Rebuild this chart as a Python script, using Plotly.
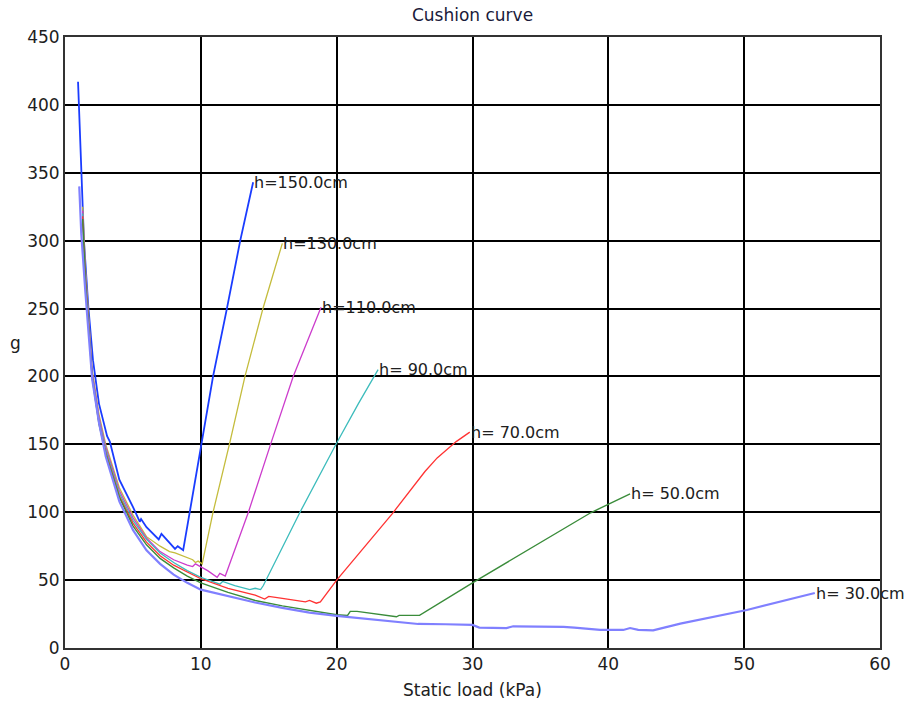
import plotly.graph_objects as go

# ---- data ----
labels = ["h=150.0cm", "h=130.0cm", "h=110.0cm", "h= 90.0cm", "h= 70.0cm", "h= 50.0cm", "h= 30.0cm"]

x150 = [0.96, 1.23, 1.4, 1.72, 2.06, 2.5, 3.0, 3.1, 3.3, 4.0, 5.0, 5.5, 5.6, 6.0, 6.9, 7.1, 8.1, 8.3, 8.7, 10.1, 10.9, 11.9, 12.9, 13.85]
g150 = [417, 351, 299, 251, 212, 180, 160, 156, 152, 124, 104, 93, 95, 89, 80, 84, 73, 75, 72, 153, 200, 249, 300, 343]

x130 = [1.3, 1.5, 2.0, 2.5, 3.0, 4.0, 5.0, 6.0, 7.0, 7.7, 8.1, 9.4, 9.6, 9.8, 10.1, 10.9, 12.15, 13.25, 14.6, 16.0]
g130 = [325, 280, 205, 172, 150, 118, 98, 82, 75, 71, 70, 65, 63, 64, 62, 100, 152, 200, 251, 298]

x110 = [1.3, 1.5, 2.0, 2.5, 3.0, 4.0, 5.0, 6.0, 7.0, 8.0, 9.0, 9.4, 9.6, 10.5, 11.2, 11.4, 11.8, 13.5, 15.2, 16.8, 18.85]
g110 = [322, 277, 203, 170, 148, 116, 96, 81, 71, 65, 61, 60, 62, 57, 52, 55, 53, 100, 152, 200, 251]

x90 = [1.3, 1.5, 2.0, 2.5, 3.0, 4.0, 5.0, 6.0, 7.0, 8.0, 9.0, 10.0, 11.4, 11.6, 12.5, 13.6, 14.0, 14.4, 14.6, 15.5, 17.3, 20.0, 21.6, 23.05]
g90 = [320, 275, 201, 168, 146, 114, 94, 80, 70, 63, 57, 52, 47, 49, 46, 43, 44, 43, 46, 64, 100, 151, 180, 205]

x70 = [1.3, 1.5, 2.0, 2.5, 3.0, 4.0, 5.0, 6.0, 7.0, 8.0, 9.0, 10.0, 12.0, 14.0, 14.7, 15.0, 16.0, 17.7, 18.0, 18.5, 18.8, 20.0, 24.1, 26.5, 27.4, 28.8, 29.8]
g70 = [318, 273, 200, 166, 144, 112, 92, 78, 68, 61, 56, 51, 44, 39, 36, 38, 36.5, 34, 35, 33, 34, 50, 99, 130, 140, 152, 159]

x50 = [1.3, 1.5, 2.0, 2.5, 3.0, 4.0, 5.0, 6.0, 7.0, 8.0, 9.0, 10.0, 12.0, 14.0, 16.0, 18.0, 20.0, 20.8, 21.0, 21.5, 22.5, 24.4, 24.6, 26.1, 30.0, 34.5, 38.7, 41.6]
g50 = [316, 271, 199, 165, 143, 111, 90, 76, 66, 59, 53, 48, 41, 35, 31, 27.5, 24.5, 24, 27, 27, 25.5, 23, 24, 24, 48, 74.5, 99.6, 113.6]

x30 = [1.05, 1.2, 1.5, 2.0, 2.5, 3.0, 4.0, 5.0, 6.0, 7.0, 8.0, 9.0, 10.0, 12.0, 14.0, 16.0, 18.0, 20.0, 22.0, 24.4, 26.0, 28.0, 30.0, 30.5, 32.5, 33.0, 34.8, 36.7, 37.5, 39.4, 41.1, 41.6, 42.2, 43.3, 45.3, 50.2, 55.2]
g30 = [340, 305, 262, 198, 166, 141, 108, 87, 72, 62, 54, 48, 43, 38, 33.5, 29.5, 26, 23.6, 21.5, 19, 17.7, 17.5, 17, 15, 14.7, 16, 16, 15.5, 15, 13.3, 13.3, 14.7, 13.3, 13, 18, 28, 40.5]

xs = [x150, x130, x110, x90, x70, x50, x30]
gs = [g150, g130, g110, g90, g70, g50, g30]

colors = ["#1a3cff", "#c4bc3c", "#cc3ccc", "#3cbcbc", "#ff3232", "#3a8c3a", "#8080ff"]
widths = [1.8, 1.3, 1.3, 1.3, 1.3, 1.4, 2.2]

FONT = "DejaVu Sans"

fig = go.Figure()
for xv, gv, c, w in zip(xs, gs, colors, widths):
    fig.add_trace(go.Scatter(x=xv, y=gv, mode="lines", line=dict(color=c, width=w),
                             showlegend=False, hoverinfo="skip"))

for xv, gv, lab in zip(xs, gs, labels):
    fig.add_annotation(x=xv[-1], y=gv[-1], text=lab, showarrow=False,
                       xanchor="left", yanchor="middle", xshift=-1,
                       font=dict(family=FONT, size=16, color="#202020"))

# axis titles
fig.add_annotation(xref="paper", yref="paper", x=0.5, y=-0.068, text="Static load (kPa)",
                   showarrow=False, xanchor="center", yanchor="middle",
                   font=dict(family=FONT, size=17, color="#202020"))
fig.add_annotation(xref="paper", yref="paper", x=-0.061, y=0.5, text="g",
                   showarrow=False, xanchor="center", yanchor="middle",
                   font=dict(family=FONT, size=17, color="#202020"))

axis_common = dict(showgrid=True, gridcolor="black", gridwidth=2,
                   showline=True, linecolor="#333333", linewidth=2, mirror=True,
                   zeroline=False, ticks="",
                   tickfont=dict(family=FONT, size=17, color="#202020"))

fig.update_layout(
    width=909, height=703,
    margin=dict(l=65, r=29, t=37, b=55),
    paper_bgcolor="white", plot_bgcolor="white",
    title=dict(text="Cushion curve", x=0.5, xref="paper", y=1 - 15 / 703, yref="container",
               xanchor="center", yanchor="middle",
               font=dict(family=FONT, size=17, color="#1a1a3a")),
    xaxis=dict(range=[0, 60], dtick=10, tick0=0, **axis_common),
    yaxis=dict(range=[0, 450], dtick=50, tick0=0, **axis_common),
)

fig.write_html("out.html")
